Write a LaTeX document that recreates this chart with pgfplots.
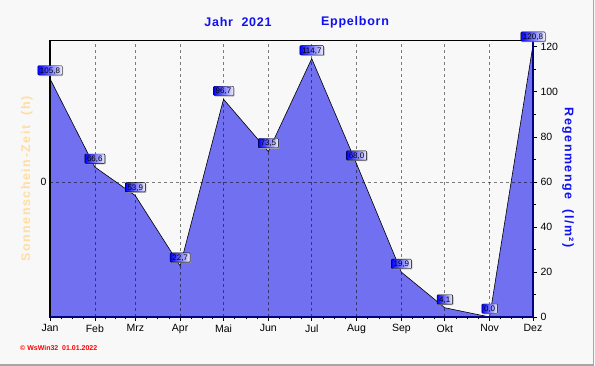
\documentclass[border=0pt]{standalone}
\usepackage{pgfplots}
\pgfplotsset{compat=1.18}
\usepackage{pgfplotstable}
\usepackage{fontspec}
\setmainfont{Liberation Sans}
\newfontfamily\spacedfont[LetterSpace=12]{Liberation Sans}
\newfontfamily\titlefont[LetterSpace=6]{Liberation Sans}
\usetikzlibrary{shadows}
\pgfkeys{/pgf/number format/assume math mode=true}
\definecolor{bgc}{RGB}{248,248,248}
\definecolor{areac}{RGB}{112,112,240}
\definecolor{navyc}{RGB}{0,0,128}
\definecolor{titleblue}{RGB}{16,16,240}
\definecolor{sunc}{RGB}{255,222,160}
\pgfplotstableread{
x y
0 105.8
31 66.6
59 53.9
90 22.7
120 96.7
151 73.5
181 114.7
212 68.0
243 19.9
273 4.1
304 0.0
334 120.8
}\rain
\begin{document}
\begin{tikzpicture}
\fill[bgc] (-50pt,-49pt) rectangle (545pt,317pt);
\draw[gray!70, line width=1.2pt] (-50pt,-48pt) -- (543.5pt,-48pt) -- (543.5pt,317pt);
% main axis: area and ticks
\begin{axis}[at={(0,0)}, anchor=south west, scale only axis,
  width=483pt, height=277pt,
  xmin=0, xmax=334, ymin=0, ymax=123,
  xtick={0,31,59,90,120,151,181,212,243,273,304,334},
  xticklabels={Jan,Feb,Mrz,Apr,Mai,Jun,Jul,Aug,Sep,Okt,Nov,Dez},
  minor xtick={7.75,15.5,23.25,38,45,52,66.75,74.5,82.25,97.5,105,112.5,127.75,135.5,143.25,158.5,166,173.5,188.75,196.5,204.25,219.75,227.5,235.25,250.5,258,265.5,280.75,288.5,296.25,311.5,319,326.5},
  ytick={0,20,...,120}, minor ytick={10,30,...,110},
  xtick pos=bottom, ytick pos=right, yticklabel pos=right,
  tick align=outside, major tick length=4pt, minor tick length=2.5pt,
  tick style={black, line width=0.6pt},
  ticklabel style={font=\fontsize{10.5}{12}\selectfont},
  /pgf/number format/assume math mode=true,
  axis line style={draw=none},
  clip=false]
\addplot[fill=areac, draw=black, line width=0.6pt] table[x=x,y=y]{\rain} \closedcycle;
\end{axis}
% grid overlay and left axis
\begin{axis}[at={(0,0)}, anchor=south west, scale only axis,
  width=483pt, height=277pt,
  xmin=0, xmax=334, ymin=0, ymax=123,
  xtick={31,59,90,120,151,181,212,243,273,304},
  xticklabels={},
  ytick={60}, yticklabels={0},
  ytick pos=left, major tick length=0pt,
  xmajorgrids, ymajorgrids,
  grid style={dashed, black, opacity=0.5, line width=0.6pt},
  ticklabel style={font=\fontsize{10.5}{12}\selectfont},
  axis line style={draw=none}]
\end{axis}
\draw[black, line width=1.6pt] (0,-0.8pt) -- (0,277pt);
\draw[navyc, line width=1.6pt] (0,0) -- (483pt,0) -- (483pt,277pt);
\draw[black, line width=0.8pt] (0,277pt) -- (483pt,277pt);
% data labels overlay
\begin{axis}[at={(0,0)}, anchor=south west, scale only axis,
  width=483pt, height=277pt,
  xmin=0, xmax=334, ymin=0, ymax=123,
  hide axis, clip=false,
  nodes near coords={\pgfmathprintnumber[fixed,fixed zerofill,precision=1,use comma,assume math mode=true]{\pgfplotspointmeta}},
  nodes near coords style={font=\fontsize{8}{9}\selectfont, anchor=south, yshift=3.5pt,
    draw=black, line width=0.4pt, left color=blue, right color=blue!6!white,
    inner xsep=2.2pt, inner ysep=1.4pt, text height=6pt, text depth=0.5pt,
    rounded corners=0.8pt,
    drop shadow={shadow xshift=1pt, shadow yshift=-1pt, fill=gray!70, opacity=0.8}}]
\addplot[draw=none, mark=none] table[x=x,y=y]{\rain};
\end{axis}
% titles and labels
\node[font=\titlefont\bfseries\fontsize{12.5}{14}\selectfont, text=titleblue] at (188pt,295pt) {Jahr\ \ 2021};
\node[font=\titlefont\bfseries\fontsize{12.5}{14}\selectfont, text=titleblue] at (305pt,295pt) {Eppelborn};
\node[font=\spacedfont\bfseries\fontsize{12.5}{14}\selectfont, text=titleblue, rotate=-90] at (518pt,139.5pt) {Regenmenge\ \ (l/m²)};
\node[font=\spacedfont\bfseries\fontsize{12.5}{14}\selectfont, text=sunc, rotate=90] at (-23pt,138pt) {Sonnenschein-Zeit\ \ (h)};
\node[font=\bfseries\fontsize{7}{8}\selectfont, text=red, anchor=west, inner sep=0pt] at (-30pt,-31pt) {\textcopyright\ WsWin32\ \ 01.01.2022};
\pgfresetboundingbox
\path (-50pt,-49pt) rectangle (545pt,317pt);
\end{tikzpicture}
\end{document}
